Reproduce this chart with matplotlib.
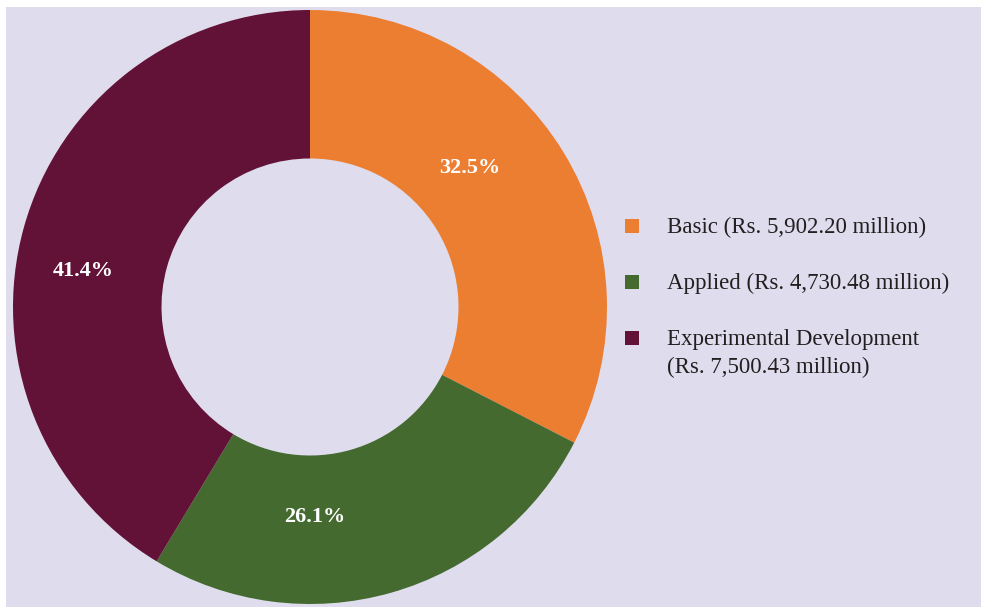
import matplotlib
matplotlib.use("Agg")
import matplotlib.pyplot as plt
from matplotlib.patches import Rectangle

# ---- data ----
categories = ["Basic", "Applied", "Experimental Development"]
amounts = [5902.20, 4730.48, 7500.43]          # Rs. million
pct_labels = ["32.5%", "26.1%", "41.4%"]
legend_labels = ["Basic (Rs. 5,902.20 million)",
                 "Applied (Rs. 4,730.48 million)",
                 "Experimental Development\n(Rs. 7,500.43 million)"]

# ---- style / layout ----
colors = ["#EC7E32", "#446A30", "#611236"]
bg = "#DFDCED"
label_pos = [(0.539, 0.468), (0.017, -0.707), (-0.764, 0.121)]  # label anchors (pie radius units)
font = "Liberation Serif"

W, H = 981, 607
fig = plt.figure(figsize=(W / 100, H / 100), dpi=100)
fig.patch.set_facecolor("white")

def fx(px):
    return px / W

def fy(py):
    return 1 - py / H

# background panel
fig.patches.append(Rectangle((fx(6), 0), 1 - fx(6), fy(7), transform=fig.transFigure,
                             facecolor=bg, edgecolor="none", zorder=-5))

cx, cy, r = 310, 307, 297
ax = fig.add_axes([fx(cx - r), fy(cy + r), 2 * r / W, 2 * r / H])
ax.set_zorder(2)
ax.set_facecolor("none")
wedges, _ = ax.pie(amounts, colors=colors, startangle=90, counterclock=False,
                   radius=1.0, wedgeprops=dict(width=0.5, linewidth=0))
ax.set_xlim(-1, 1)
ax.set_ylim(-1, 1)
ax.set_aspect("equal")
ax.axis("off")

for txt, (x, y) in zip(pct_labels, label_pos):
    ax.text(x, y, txt, ha="center", va="center", color="white",
            fontsize=16, fontweight="bold", family=font)

# legend (manual)
rows = [233, 289, 345]
for col, lab, base in zip(colors, legend_labels, rows):
    fig.patches.append(Rectangle((fx(625), fy(base)), fx(14), 14 / H,
                                 transform=fig.transFigure, facecolor=col,
                                 edgecolor="none", zorder=2))
    lines = lab.split("\n")
    for i, ln in enumerate(lines):
        fig.text(fx(667), fy(base + 28 * i), ln, ha="left", va="baseline",
                 fontsize=16.5, family=font, color="#231F20")

fig.savefig("out.png", dpi=100, facecolor="white")
